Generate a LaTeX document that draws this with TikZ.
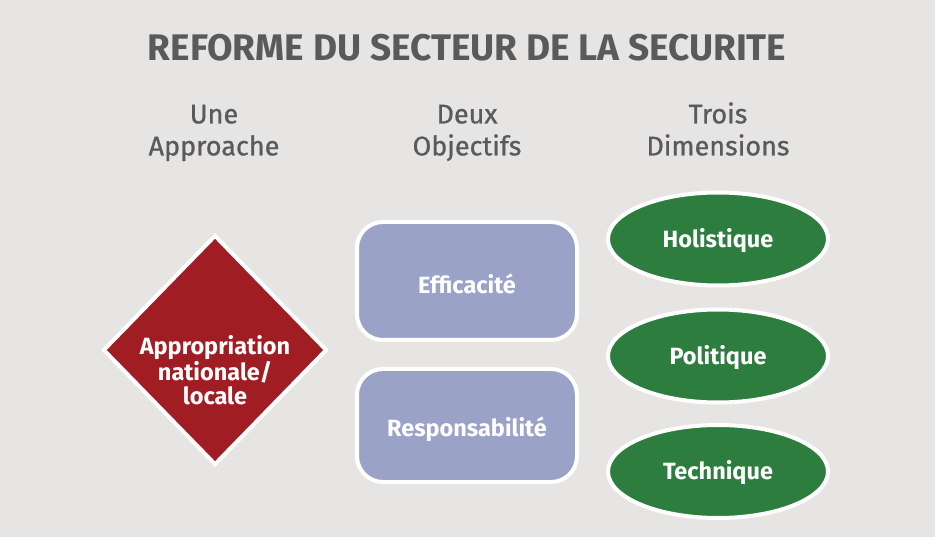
\documentclass[tikz,border=0pt]{standalone}
\usepackage{fontspec}
\setmainfont{Fira Sans}
\usetikzlibrary{shapes.geometric}
\definecolor{bg}{HTML}{E6E5E3}
\definecolor{titlegray}{HTML}{595A5C}
\definecolor{redfill}{HTML}{A11D24}
\definecolor{bluefill}{HTML}{9AA2C8}
\definecolor{greenfill}{HTML}{2C7D3E}
\tikzset{
  heading/.style={text=titlegray, font=\fontsize{27}{32}\selectfont\addfontfeature{FakeBold=0.8}, align=center},
  shapetext/.style={text=white, font=\fontsize{23.5}{24}\selectfont\bfseries, align=center},
  diam/.style={diamond, fill=redfill, draw=white, line width=4pt, minimum width=224pt, minimum height=230pt, inner sep=0pt},
  objbox/.style={rectangle, rounded corners=26pt, fill=bluefill, draw=white, line width=4pt, minimum width=220pt, inner sep=0pt},
  dimell/.style={ellipse, fill=greenfill, draw=white, line width=4pt, minimum width=220pt, minimum height=93pt, inner sep=0pt}
}
\begin{document}
\begin{tikzpicture}[x=1pt,y=-1pt]
\fill[bg] (0,0) rectangle (935,537);
\useasboundingbox (0,0) rectangle (935,537);
\node[text=titlegray, font=\fontsize{37}{40}\selectfont\bfseries] (title) at (467,48) {REFORME DU SECTEUR DE LA SECURITE};
\node[heading] (h1) at (214,133) {Une\strut\\Approache\strut};
\node[heading] (h2) at (467,133) {Deux\strut\\Objectifs\strut};
\node[heading] (h3) at (718,133) {Trois\strut\\Dimensions\strut};
\node[diam] (app) at (215,350) {};
\node[shapetext] (apptext) at (215,370) {Appropriation\\nationale/\\locale};
\node[objbox, minimum height=118pt] (eff) at (467,281) {};
\node[shapetext] (efftext) at (467,284) {Efficacité};
\node[objbox, minimum height=113pt] (resp) at (467,425.5) {};
\node[shapetext] (resptext) at (467,429) {Responsabilité};
\node[dimell] (hol) at (718,239) {};
\node[shapetext] (holtext) at (718,241) {Holistique};
\node[dimell] (pol) at (718,356) {};
\node[shapetext] (poltext) at (718,358) {Politique};
\node[dimell] (tech) at (718,471.5) {};
\node[shapetext] (techtext) at (718,473) {Technique};
\end{tikzpicture}
\end{document}
